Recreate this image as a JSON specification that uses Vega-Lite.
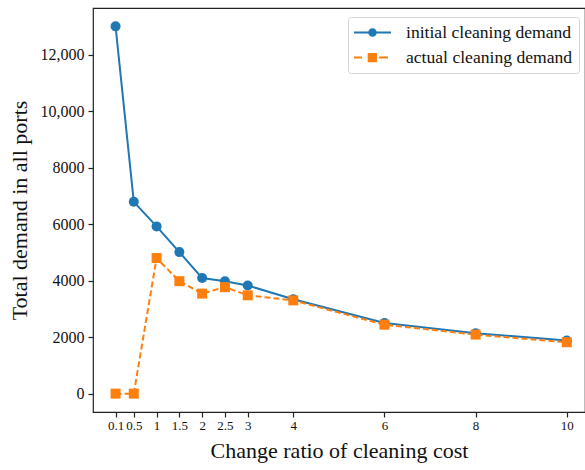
{
  "$schema": "https://vega.github.io/schema/vega-lite/v6.json",
  "width": 492,
  "height": 404,
  "autosize": "none",
  "padding": {"left": 93, "top": 8, "right": 0, "bottom": 58},
  "background": "white",
  "config": {
    "font": "Liberation Serif",
    "view": {"stroke": "#222", "strokeWidth": 1.2},
    "axis": {
      "grid": false,
      "domain": false,
      "tickColor": "#222",
      "tickSize": 5,
      "tickWidth": 1.2,
      "labelColor": "#111",
      "titleColor": "#111",
      "labelFont": "Liberation Serif",
      "titleFont": "Liberation Serif",
      "titleFontWeight": "normal",
      "labelPadding": 4
    },
    "legend": {
      "labelFont": "Liberation Serif",
      "labelFontSize": 17.6,
      "labelColor": "#111",
      "labelLimit": 300
    }
  },
  "data": {
    "values": [
      {"ratio": 0.1, "demand": 13000, "series": "initial cleaning demand"},
      {"ratio": 0.5, "demand": 6790, "series": "initial cleaning demand"},
      {"ratio": 1, "demand": 5920, "series": "initial cleaning demand"},
      {"ratio": 1.5, "demand": 5010, "series": "initial cleaning demand"},
      {"ratio": 2, "demand": 4090, "series": "initial cleaning demand"},
      {"ratio": 2.5, "demand": 3980, "series": "initial cleaning demand"},
      {"ratio": 3, "demand": 3830, "series": "initial cleaning demand"},
      {"ratio": 4, "demand": 3340, "series": "initial cleaning demand"},
      {"ratio": 6, "demand": 2500, "series": "initial cleaning demand"},
      {"ratio": 8, "demand": 2140, "series": "initial cleaning demand"},
      {"ratio": 10, "demand": 1880, "series": "initial cleaning demand"},
      {"ratio": 0.1, "demand": 0, "series": "actual cleaning demand"},
      {"ratio": 0.5, "demand": 0, "series": "actual cleaning demand"},
      {"ratio": 1, "demand": 4800, "series": "actual cleaning demand"},
      {"ratio": 1.5, "demand": 3980, "series": "actual cleaning demand"},
      {"ratio": 2, "demand": 3540, "series": "actual cleaning demand"},
      {"ratio": 2.5, "demand": 3770, "series": "actual cleaning demand"},
      {"ratio": 3, "demand": 3480, "series": "actual cleaning demand"},
      {"ratio": 4, "demand": 3300, "series": "actual cleaning demand"},
      {"ratio": 6, "demand": 2440, "series": "actual cleaning demand"},
      {"ratio": 8, "demand": 2090, "series": "actual cleaning demand"},
      {"ratio": 10, "demand": 1820, "series": "actual cleaning demand"}
    ]
  },
  "encoding": {
    "x": {
      "field": "ratio",
      "type": "quantitative",
      "scale": {"domain": [-0.395, 10.4], "nice": false, "zero": false},
      "axis": {
        "title": "Change ratio of cleaning cost",
        "values": [0.1, 0.5, 1, 1.5, 2, 2.5, 3, 4, 6, 8, 10],
        "labelExpr": "'' + datum.value",
        "labelFontSize": 13,
        "labelPadding": 2,
        "titleFontSize": 22,
        "titlePadding": 8,
        "labelFlush": false,
        "labelOverlap": false
      }
    },
    "y": {
      "field": "demand",
      "type": "quantitative",
      "scale": {"domain": [-650, 13650], "nice": false, "zero": false},
      "axis": {
        "title": "Total demand in all ports",
        "values": [0, 2000, 4000, 6000, 8000, 10000, 12000],
        "labelExpr": "datum.value >= 10000 ? format(datum.value, ',') : format(datum.value, 'd')",
        "labelFontSize": 16,
        "titleFontSize": 22,
        "titlePadding": 9,
        "labelFlush": false,
        "labelOverlap": false
      }
    }
  },
  "layer": [
    {
      "transform": [{"filter": "datum.series === 'initial cleaning demand'"}],
      "mark": {"type": "line", "strokeWidth": 2, "stroke": "#1f77b4"}
    },
    {
      "transform": [{"filter": "datum.series === 'actual cleaning demand'"}],
      "mark": {"type": "line", "strokeWidth": 2, "stroke": "#ff7f0e", "strokeDash": [6, 3]}
    },
    {
      "transform": [{"filter": "datum.series === 'initial cleaning demand'"}],
      "mark": {"type": "point", "shape": "circle", "filled": true, "opacity": 1, "size": 100, "fill": "#1f77b4"}
    },
    {
      "transform": [{"filter": "datum.series === 'actual cleaning demand'"}],
      "mark": {"type": "point", "shape": "square", "filled": true, "opacity": 1, "size": 100, "fill": "#ff7f0e"}
    },
    {
      "mark": {"type": "point", "filled": true, "opacity": 0},
      "encoding": {
        "color": {
          "field": "series",
          "type": "nominal",
          "title": null,
          "scale": {
            "domain": ["initial cleaning demand", "actual cleaning demand"],
            "range": ["#1f77b4", "#ff7f0e"]
          }
        },
        "shape": {
          "field": "series",
          "type": "nominal",
          "title": null,
          "scale": {
            "domain": ["initial cleaning demand", "actual cleaning demand"],
            "range": [
              "M-1,-0.055H-0.22V0.055H-1Z M0.22,-0.055H1V0.055H0.22Z M0.23,0A0.23,0.23 0 1,1 -0.23,0A0.23,0.23 0 1,1 0.23,0Z",
              "M-1,-0.055H-0.57V0.055H-1Z M0.35,-0.055H0.84V0.055H0.35Z M-0.26,-0.25H0.24V0.25H-0.26Z"
            ]
          },
          "legend": {
            "orient": "none",
            "legendX": 255,
            "legendY": 9,
            "symbolSize": 1369,
            "symbolStrokeWidth": 0,
            "symbolOpacity": 1,
            "clipHeight": 19,
            "labelOffset": 15,
            "labelFont": "Liberation Serif",
            "labelFontSize": 17.6,
            "labelLimit": 300,
            "rowPadding": 6,
            "padding": 6,
            "strokeColor": "#d4d4d4",
            "fillColor": "white",
            "cornerRadius": 3
          }
        }
      }
    }
  ]
}
